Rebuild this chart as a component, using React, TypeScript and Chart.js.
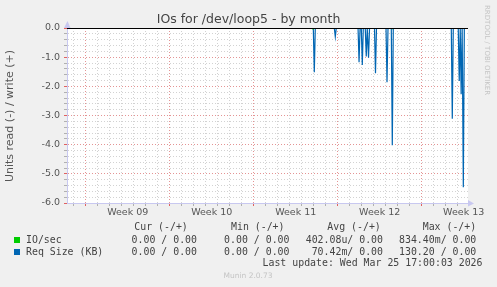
import React, { useEffect, useRef } from "react";
import { Chart, registerables } from "chart.js";

Chart.register(...registerables);

// ---------- data ----------
const TITLE = "IOs for /dev/loop5 - by month";
const Y_TITLE = "Units read (-) / write (+)";
const WEEK_LABELS = ["Week 09", "Week 10", "Week 11", "Week 12", "Week 13"];
// x axis in days counted from the Monday starting week 09
const X_MIN = -1.56;
const X_MAX = 31.86;
const Y_MIN = -6;
const Y_MAX = 0;
const STEP = 1 / 12; // 2 h consolidation step, in days

// Req Size (KB), read side (negative), spike times (days) and values
const REQ_DAYS = [19.05, 20.8, 22.78, 23.05, 23.38, 23.57, 24.15, 25.11, 25.55, 30.55, 31.13, 31.29, 31.47];
const REQ_READ = [-1.52, -0.3, -1.17, -1.27, -0.98, -1.02, -1.55, -1.86, -4.02, -3.11, -1.82, -2.27, -5.46];
// IO/sec, read side
const IO_DAYS = [18.95, 25.55];
const IO_READ = [-0.05, -0.04];

// legend table
const LEGEND_NAMES = ["IO/sec", "Req Size (KB)"];
const LEGEND_COLORS = ["#00cc00", "#0066b3"];
const LEGEND_HEADERS = ["Cur (-/+)", "Min (-/+)", "Avg (-/+)", "Max (-/+)"];
const CUR_VALUES = ["0.00 / 0.00", "0.00 / 0.00"];
const MIN_VALUES = ["0.00 / 0.00", "0.00 / 0.00"];
const AVG_VALUES = ["402.08u/ 0.00", "70.42m/ 0.00"];
const MAX_VALUES = ["834.40m/ 0.00", "130.20 / 0.00"];
const LAST_UPDATE = "Last update: Wed Mar 25 17:00:03 2026";
const FOOTER = "Munin 2.0.73";
const WATERMARK = "RRDTOOL / TOBI OETIKER";

function spikeSeries(days: number[], vals: number[]) {
  const pts: { x: number; y: number }[] = [{ x: X_MIN, y: 0 }];
  days.forEach((d, i) => {
    pts.push({ x: d - STEP, y: 0 }, { x: d, y: vals[i] }, { x: d + STEP, y: 0 });
  });
  pts.push({ x: X_MAX, y: 0 });
  return pts;
}

const isInt = (v: number) => Math.abs(v - Math.round(v)) < 1e-6;

const MINOR = "#d2d2d2";
const MAJOR = "#e49494";
const AXIS = "#c8c8f0";
const SANS = "'DejaVu Sans', sans-serif";
const MONO = "'DejaVu Sans Mono', monospace";

const decorPlugin = {
  id: "decor",
  beforeDraw(chart: any) {
    const { ctx, chartArea: a } = chart;
    ctx.save();
    ctx.fillStyle = "#f0f0f0";
    ctx.fillRect(0, 0, chart.width, chart.height);
    ctx.fillStyle = "#ffffff";
    ctx.fillRect(a.left, a.top, a.right - a.left, a.bottom - a.top);
    ctx.restore();
  },
  afterDatasetsDraw(chart: any) {
    const { ctx, chartArea: a } = chart;
    const y0 = Math.round(chart.scales.y.getPixelForValue(0)) + 0.5;
    ctx.save();
    ctx.strokeStyle = "#000000";
    ctx.lineWidth = 1;
    ctx.beginPath();
    ctx.moveTo(a.left, y0);
    ctx.lineTo(a.right, y0);
    ctx.stroke();
    ctx.restore();
  },
  afterDraw(chart: any) {
    const { ctx, chartArea: a } = chart;
    ctx.save();
    // arrows
    ctx.fillStyle = AXIS;
    ctx.beginPath();
    ctx.moveTo(a.left - 3, a.top);
    ctx.lineTo(a.left + 3.5, a.top);
    ctx.lineTo(a.left + 0.5, a.top - 7);
    ctx.closePath();
    ctx.fill();
    ctx.beginPath();
    ctx.moveTo(a.right, a.bottom - 3);
    ctx.lineTo(a.right, a.bottom + 3.5);
    ctx.lineTo(a.right + 6, a.bottom + 0.5);
    ctx.closePath();
    ctx.fill();

    // title
    ctx.fillStyle = "#444444";
    ctx.font = `12.5px ${SANS}`;
    ctx.textAlign = "center";
    ctx.textBaseline = "alphabetic";
    ctx.fillText(TITLE, 248.5, 23);

    // y title
    ctx.save();
    ctx.translate(10.5, 116);
    ctx.rotate(-Math.PI / 2);
    ctx.font = `11px ${SANS}`;
    ctx.fillStyle = "#555555";
    ctx.textAlign = "center";
    ctx.textBaseline = "middle";
    ctx.fillText(Y_TITLE, 0, 0);
    ctx.restore();

    // watermark
    ctx.save();
    ctx.translate(487, 5);
    ctx.rotate(Math.PI / 2);
    ctx.font = `7px ${SANS}`;
    ctx.fillStyle = "#c4c4c4";
    ctx.textAlign = "left";
    ctx.textBaseline = "middle";
    ctx.fillText(WATERMARK, 0, 0);
    ctx.restore();

    // legend
    ctx.font = `9.9px ${MONO}`;
    ctx.fillStyle = "#444444";
    ctx.textBaseline = "middle";
    ctx.textAlign = "left";
    const headerX = [134.3, 231, 327.3, 422.7];
    LEGEND_HEADERS.forEach((h, i) => ctx.fillText(h, headerX[i], 227));
    const rowY = [240, 252];
    const colRight = [197, 289.5, 383, 476.3];
    LEGEND_NAMES.forEach((n, r) => {
      ctx.fillStyle = LEGEND_COLORS[r];
      ctx.fillRect(14, rowY[r] - 3, 6, 6);
      ctx.fillStyle = "#444444";
      ctx.textAlign = "left";
      ctx.fillText(n, 26, rowY[r]);
      ctx.textAlign = "right";
      [CUR_VALUES, MIN_VALUES, AVG_VALUES, MAX_VALUES].forEach((col, c) => {
        ctx.fillText(col[r], colRight[c], rowY[r]);
      });
    });
    ctx.textAlign = "right";
    ctx.fillText(LAST_UPDATE, 482.5, 263.5);

    // footer
    ctx.font = `7.5px ${SANS}`;
    ctx.fillStyle = "#c4c4c4";
    ctx.textAlign = "center";
    ctx.fillText(FOOTER, 248, 276.5);
    ctx.restore();
  },
};

export default function App() {
  const ref = useRef<HTMLCanvasElement | null>(null);
  useEffect(() => {
    if (!ref.current) return;
    const chart = new Chart(ref.current, {
      type: "line",
      data: {
        datasets: [
          {
            label: LEGEND_NAMES[0],
            data: spikeSeries(IO_DAYS, IO_READ),
            borderColor: LEGEND_COLORS[0],
            borderWidth: 1,
            pointRadius: 0,
            tension: 0,
          },
          {
            label: LEGEND_NAMES[1],
            data: spikeSeries(REQ_DAYS, REQ_READ),
            borderColor: LEGEND_COLORS[1],
            borderWidth: 1.2,
            pointRadius: 0,
            tension: 0,
          },
        ],
      },
      options: {
        animation: false,
        responsive: false,
        devicePixelRatio: 1,
        layout: { padding: { left: 0, right: 29, top: 28, bottom: 0 } },
        plugins: {
          legend: { display: false },
          title: { display: false },
          tooltip: { enabled: false },
        },
        scales: {
          x: {
            type: "linear",
            min: X_MIN,
            max: X_MAX,
            afterFit: (s: any) => {
              s.height = 84;
            },
            afterBuildTicks: (s: any) => {
              const t: { value: number }[] = [];
              for (let v = -1.5; v <= X_MAX; v += 0.5) t.push({ value: v });
              s.ticks = t;
            },
            border: {
              display: true,
              color: AXIS,
              width: 1,
              dash: [1, 2],
            },
            grid: {
              drawTicks: true,
              tickLength: 3,
              color: (c: any) => {
                const v = c.tick ? c.tick.value : 0;
                if (!isInt(v)) return "rgba(0,0,0,0)";
                return Math.round(v) % 7 === 0 ? MAJOR : MINOR;
              },
              tickColor: (c: any) => {
                const v = c.tick ? c.tick.value : 0;
                if (!isInt(v)) return "rgba(0,0,0,0)";
                return Math.round(v) % 7 === 0 ? "#e06060" : "#b0b0b0";
              },
              lineWidth: (c: any) => {
                const v = c.tick ? c.tick.value : 0;
                return isInt(v) ? 1 : 0;
              },
            },
            ticks: {
              autoSkip: false,
              maxRotation: 0,
              padding: 1,
              color: "#555555",
              font: { family: SANS, size: 9.5 },
              callback: (value: any) => {
                const v = Number(value);
                const k = (v - 3.5) / 7;
                if (isInt(k) && k >= 0 && k < WEEK_LABELS.length) return WEEK_LABELS[Math.round(k)];
                return "";
              },
            },
          },
          y: {
            type: "linear",
            min: Y_MIN,
            max: Y_MAX,
            afterFit: (s: any) => {
              s.width = 67;
            },
            border: { display: true, color: AXIS, width: 1, dash: [1, 2] },
            grid: {
              drawTicks: true,
              tickLength: 3,
              color: (c: any) => {
                const v = c.tick ? c.tick.value : 0;
                if (Math.abs(v) < 1e-6) return "rgba(0,0,0,0)";
                return isInt(v) ? MAJOR : MINOR;
              },
              tickColor: (c: any) => {
                const v = c.tick ? c.tick.value : 0;
                return isInt(v) ? "#e06060" : "#b0b0b0";
              },
            },
            ticks: {
              stepSize: 0.2,
              autoSkip: false,
              padding: 4,
              color: "#555555",
              font: { family: SANS, size: 9.5 },
              callback: (value: any) => {
                const v = Number(value);
                if (!isInt(v)) return "";
                const r = Math.round(v);
                return (r === 0 ? 0 : r).toFixed(1);
              },
            },
          },
        },
      } as any,
      plugins: [decorPlugin],
    });
    return () => chart.destroy();
  }, []);

  return (
    <div style={{ position: "fixed", left: 0, top: 0, width: 497, height: 287 }}>
      <canvas ref={ref} width={497} height={287} style={{ display: "block", width: 497, height: 287 }} />
    </div>
  );
}
